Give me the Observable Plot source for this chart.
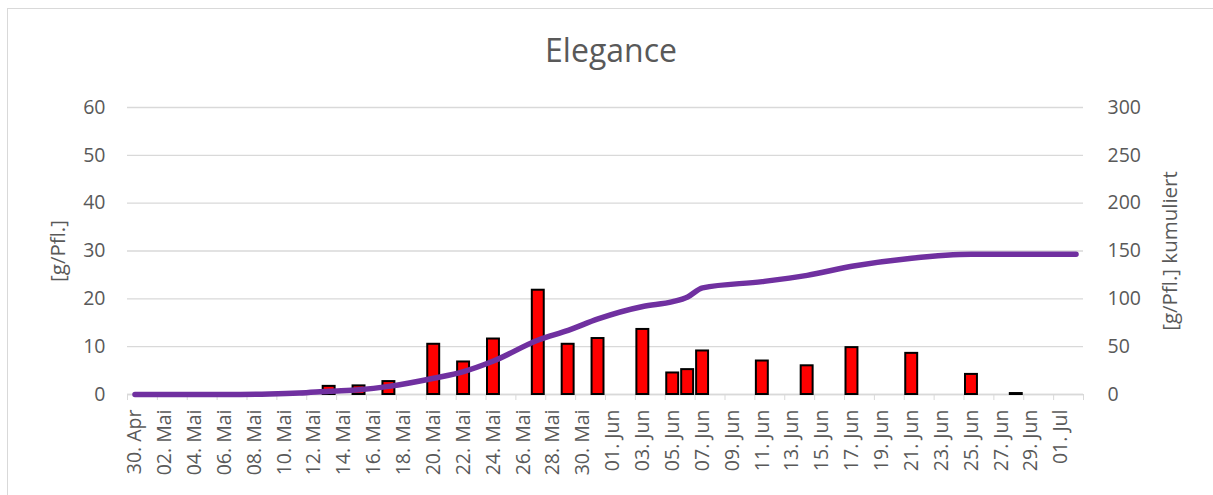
<!DOCTYPE html>
<html><head><meta charset="utf-8">
<script src="https://cdn.jsdelivr.net/npm/d3@7"></script>
<script src="https://cdn.jsdelivr.net/npm/@observablehq/plot@0.6"></script>
<style>
body{margin:0;background:#fff;overflow:hidden;}
#wrap{position:relative;width:1213px;height:495px;overflow:hidden;}
#frame{position:absolute;left:7px;top:8px;width:1230px;height:520px;border:1px solid #d9d9d9;box-sizing:border-box;}
#title{position:absolute;left:0;width:1222px;top:34px;text-align:center;font-family:"Open Sans",sans-serif;font-size:32px;color:#595959;line-height:1;}
#chart{position:absolute;left:0;top:0;}
</style></head><body>
<div id="wrap"><div id="frame"></div><div id="title"></div><div id="chart"></div></div>
<script>
const YEAR = 2021;
const chartTitle = "Elegance";
const leftTitle = "[g/Pfl.]";
const rightTitle = "[g/Pfl.] kumuliert";

// daily values (bars)
const barDates = ["05-13","05-15","05-17","05-20","05-22","05-24","05-27","05-29","05-31",
                  "06-03","06-05","06-06","06-07","06-11","06-14","06-17","06-21","06-25","06-28"];
const barValues = [1.7, 1.8, 2.7, 10.5, 6.8, 11.6, 21.8, 10.5, 11.7,
                   13.6, 4.5, 5.2, 9.1, 7.0, 6.0, 9.8, 8.6, 4.2, 0.2];

// cumulative (line, right axis)
const cumDates = ["04-30","05-06","05-09","05-11","05-13","05-15","05-17","05-20","05-22","05-24",
                  "05-27","05-29","05-31","06-03","06-05","06-06","06-07","06-11","06-14","06-17",
                  "06-21","06-25","06-28","07-02"];
const cumValues = [0, 0, 0.5, 1.5, 3.5, 5, 8.5, 17, 24, 35,
                   57, 67, 79, 92, 97, 102, 111.5, 118, 124.5, 134,
                   142.5, 146.5, 146.5, 146.5];

const tickLabels = ["30. Apr","02. Mai","04. Mai","06. Mai","08. Mai","10. Mai","12. Mai","14. Mai",
  "16. Mai","18. Mai","20. Mai","22. Mai","24. Mai","26. Mai","28. Mai","30. Mai","01. Jun","03. Jun",
  "05. Jun","07. Jun","09. Jun","11. Jun","13. Jun","15. Jun","17. Jun","19. Jun","21. Jun","23. Jun",
  "25. Jun","27. Jun","29. Jun","01. Jul"];
const leftTicks = [0, 10, 20, 30, 40, 50, 60];
const rightTicks = [0, 50, 100, 150, 200, 250, 300];

document.getElementById("title").textContent = chartTitle;

const RATIO = rightTicks[rightTicks.length - 1] / leftTicks[leftTicks.length - 1];
const DAY = 864e5;
const monthIdx = {Apr: 3, Mai: 4, Jun: 5, Jul: 6};
const parse = s => { const [m, d] = s.split("-").map(Number); return new Date(Date.UTC(YEAR, m - 1, d)); };
const parseLabel = s => { const [d, mon] = s.split(". "); return new Date(Date.UTC(YEAR, monthIdx[mon], +d)); };
const mid = d => new Date(+d + DAY / 2);

const bars = barDates.map((d, i) => ({date: parse(d), value: barValues[i]}));
const cum = cumDates.map((d, i) => ({date: parse(d), value: cumValues[i]}));
const labelDates = tickLabels.map(parseLabel);
const labelMap = new Map(labelDates.map((d, i) => [+mid(d), tickLabels[i]]));
const start = labelDates[0];
const end = new Date(+parse(cumDates[cumDates.length - 1]) + DAY);
const boundaries = d3.range(+start, +end + 1, 2 * DAY).map(t => new Date(t));

const chart = Plot.plot({
  width: 1213, height: 495,
  marginLeft: 127, marginRight: 130, marginTop: 107, marginBottom: 101,
  style: {fontFamily: "'Open Sans', sans-serif", fontSize: "19.5px", color: "#595959", background: "transparent", overflow: "visible"},
  x: {type: "utc", domain: [start, end]},
  y: {domain: [leftTicks[0], leftTicks[leftTicks.length - 1]]},
  marks: [
    Plot.gridY(leftTicks, {stroke: "#d9d9d9", strokeOpacity: 1, strokeWidth: 1.3}),
    Plot.ruleY([0], {stroke: "#d9d9d9", strokeWidth: 1.3}),
    Plot.axisX({ticks: boundaries, tickSize: 6, tickFormat: () => "", stroke: "#d9d9d9", strokeOpacity: 1, label: null}),
    Plot.rect(bars, {x1: d => d.date, x2: d => new Date(+d.date + DAY), y1: 0, y2: "value",
      fill: "#ff0000", stroke: "#000000", strokeWidth: 2, insetLeft: 1.5, insetRight: 1.5}),
    Plot.line(cum, {x: d => mid(d.date), y: d => d.value / RATIO, stroke: "#7030a0", strokeWidth: 5.5,
      curve: "monotone-x", strokeLinecap: "round", strokeLinejoin: "round"}),
    Plot.axisX({ticks: labelDates.map(mid), tickSize: 0, tickPadding: 15, tickRotate: -90,
      tickFormat: d => labelMap.get(+d), label: null}),
    Plot.axisY({anchor: "left", ticks: leftTicks, tickSize: 0, tickPadding: 22, label: null}),
    Plot.axisY({anchor: "right", ticks: rightTicks.map(v => v / RATIO), tickFormat: d => String(Math.round(d * RATIO)),
      tickSize: 0, tickPadding: 24, label: null}),
    Plot.text([leftTitle], {text: d => d, frameAnchor: "left", dx: -69, rotate: -90, textAnchor: "middle", fontSize: 20.5}),
    Plot.text([rightTitle], {text: d => d, frameAnchor: "right", dx: 87, rotate: -90, textAnchor: "middle", fontSize: 20.5})
  ]
});
document.getElementById("chart").appendChild(chart);
</script>
</body></html>
